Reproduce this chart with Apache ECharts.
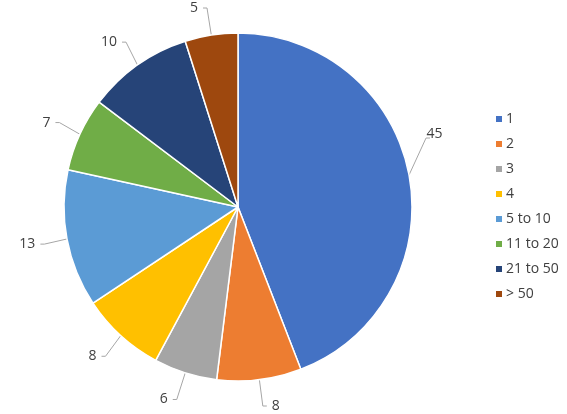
<!DOCTYPE html>
<html><head><meta charset="utf-8">
<script src="https://cdn.jsdelivr.net/npm/echarts@6/dist/echarts.min.js"></script>
<style>html,body{margin:0;padding:0;background:#fff}#c{width:567px;height:414px}</style>
</head><body><div id="c"></div>
<script>
const categories = ['1','2','3','4','5 to 10','11 to 20','21 to 50','> 50'];
const values = [45, 8, 6, 8, 13, 7, 10, 5];
const colors = ['#4472C4','#ED7D31','#A5A5A5','#FFC000','#5B9BD5','#70AD47','#264478','#9E480E'];
const chart = echarts.init(document.getElementById('c'), null, {renderer:'canvas'});
chart.setOption({
  animation:false,
  color: colors,
  legend:{
    orient:'vertical', left:489, top:106,
    itemWidth:8, itemHeight:8, itemGap:9, icon:'rect',
    textStyle:{fontFamily:'Open Sans', fontSize:14, color:'#404040', lineHeight:16, padding:[0,0,0,-2]},
    data: categories
  },
  series:[{
    type:'pie', center:[238,207], radius:174, startAngle:90, clockwise:true,
    itemStyle:{borderColor:'#fff', borderWidth:1.5},
    label:{show:true, formatter:'{c}', fontFamily:'Open Sans', fontSize:14, color:'#404040'},
    labelLine:{show:true, length:28, length2:4, lineStyle:{color:'#A6A6A6', width:1}},
    labelLayout: function (p) {
      if (p.dataIndex !== 0 || !p.labelLinePoints) return {};
      const a = p.labelLinePoints[0];
      return {
        dx: -14, dy: -36,
        labelLinePoints: [[a[0], a[1]], [a[0] + 17, a[1] - 37], [a[0] + 21, a[1] - 37]]
      };
    },
    data: categories.map((c,i)=>({name:c, value:values[i]}))
  }]
});
</script></body></html>
